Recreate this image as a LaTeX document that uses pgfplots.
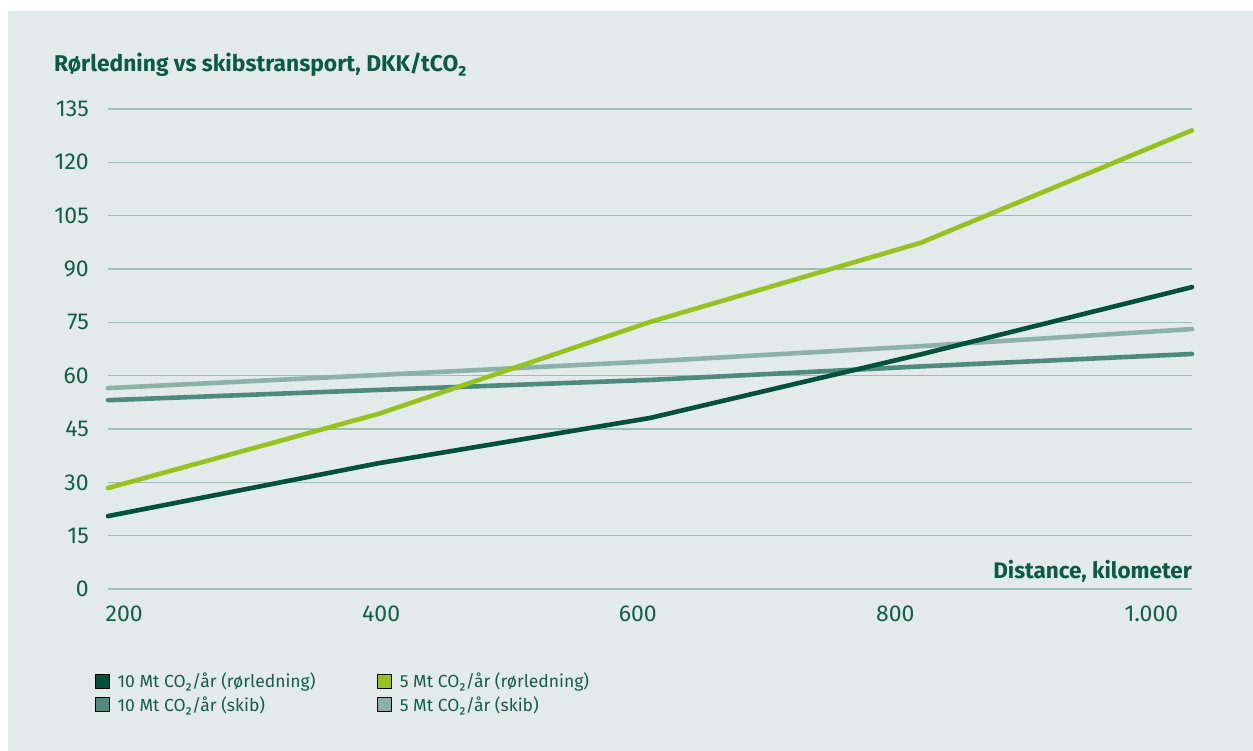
\documentclass[border=0pt]{standalone}
\usepackage{fontspec}
\setmainfont{Fira Sans}
\usepackage{pgfplots}
\pgfplotsset{compat=1.18}
\definecolor{bgcol}{HTML}{E2EBE9}
\definecolor{textcol}{HTML}{135E4A}
\definecolor{titlecol}{HTML}{0B5A44}
\definecolor{gridcol}{HTML}{9DBFB4}
\definecolor{cdark}{HTML}{00523A}
\definecolor{clime}{HTML}{97C11E}
\definecolor{cmid}{HTML}{4E8B7C}
\definecolor{clight}{HTML}{8DB1A6}
\begin{document}
\begin{tikzpicture}[x=1pt,y=1pt]
\fill[white] (-108,-162) rectangle (1145,589);
\fill[bgcol] (-100,-162) rectangle (1145,578);
\node[anchor=base west, inner sep=0pt, text=titlecol, font=\fontsize{22.8}{26}\selectfont\bfseries] at (-54,517) {Rørledning vs skibstransport, DKK/tCO₂};
\begin{axis}[
  at={(0,0)}, anchor=south west,
  width=1084pt, height=480pt, scale only axis,
  xmin=200, xmax=1000, ymin=0, ymax=135,
  clip=false,
  axis line style={draw=none},
  major tick length=0pt,
  ytick={0,15,...,135},
  xtick={212,401.6,591,781,970},
  xticklabels={200,400,600,800,1.000},
  ymajorgrids,
  grid style={color=gridcol, line width=1.5pt},
  /pgf/number format/assume math mode=true,
  tick label style={font=\fontsize{23}{27}\selectfont, text=textcol, inner sep=0pt},
  yticklabel style={anchor=east, xshift=-19pt},
  xticklabel style={anchor=north, yshift=-17pt},
  legend image code/.code={\fill[#1] (0pt,-7pt) rectangle (14pt,7pt); \path (20pt,0pt);},
  legend style={at={(rel axis cs:0,0)}, anchor=north west, xshift=-13pt, yshift=-82pt,
    draw=none, fill=none, inner sep=0pt, font=\fontsize{17.5}{21}\selectfont, text=textcol,
    row sep=3pt,
    /tikz/every even column/.append style={column sep=60pt}},
  legend columns=2,
  legend cell align=left,
]
\addplot[clight, line width=4.6pt, line cap=round, line join=round, forget plot]
  coordinates {(200,56.5) (400,60.2) (600,64.0) (800,68.3) (1000,73.1)};
\addplot[cmid, line width=4.6pt, line cap=round, line join=round, forget plot]
  coordinates {(200,53.1) (400,56.0) (600,58.8) (800,62.6) (1000,66.1)};
\addplot[clime, line width=4.6pt, line cap=round, line join=round, forget plot]
  coordinates {(200,28.4) (400,49.3) (600,75.1) (800,97.4) (1000,129.0)};
\addplot[cdark, line width=4.6pt, line cap=round, line join=round, forget plot]
  coordinates {(200,20.5) (400,35.4) (600,48.1) (800,66.0) (1000,84.9)};
\addlegendimage{fill=cdark}
\addlegendentry{10 Mt CO₂/år (rørledning)}
\addlegendimage{fill=clime}
\addlegendentry{5 Mt CO₂/år (rørledning)}
\addlegendimage{fill=cmid}
\addlegendentry{10 Mt CO₂/år (skib)}
\addlegendimage{fill=clight}
\addlegendentry{5 Mt CO₂/år (skib)}
\node[anchor=base east, inner sep=0pt, text=titlecol, font=\fontsize{22.5}{26}\selectfont\bfseries] at (rel axis cs:1,0) [yshift=10pt] {Distance, kilometer};
\end{axis}
\end{tikzpicture}
\end{document}
